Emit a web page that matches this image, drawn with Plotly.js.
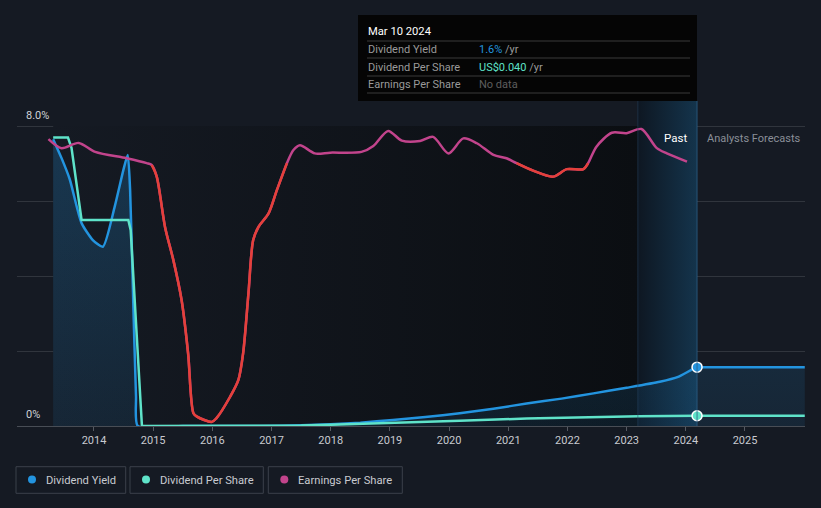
<!DOCTYPE html>
<html><head><meta charset="utf-8">
<script src="https://cdn.plot.ly/plotly-3.0.1.min.js"></script>
<style>html,body{margin:0;padding:0;background:#151a23;}#chart{width:821px;height:508px;}</style>
</head><body><div id="chart"></div>
<script>
// ---- data (x in decimal years) ----
const yieldX = [2013.31, 2013.45, 2013.59, 2013.79, 2013.98, 2014.15, 2014.35, 2014.50, 2014.57, 2014.61, 2014.66, 2014.71, 2014.74, 2015.5, 2016.5, 2016.8, 2017.5, 2018.0, 2018.5, 2019.05, 2019.6, 2020.18, 2020.75, 2021.31, 2021.9, 2022.44, 2023.0, 2023.56, 2023.87, 2024.19, 2024.3, 2025.0, 2025.9, 2026.01];
const yieldY = [7.65, 7.15, 6.58, 5.41, 4.96, 4.78, 5.85, 6.85, 7.23, 6.3, 3.5, 0.8, 0, 0, 0, 0, 0.02, 0.05, 0.09, 0.16, 0.24, 0.34, 0.46, 0.6, 0.73, 0.87, 1.02, 1.18, 1.31, 1.57, 1.57, 1.57, 1.57, 1.57];
const dpsX = [2013.31, 2013.56, 2013.62, 2013.79, 2014.58, 2014.62, 2014.81, 2016.8, 2017.5, 2018.0, 2019.05, 2020.18, 2021.31, 2022.44, 2023.2, 2024.19, 2026.01];
const dpsY = [1.12, 1.12, 1.08, 0.80, 0.80, 0.76, 0.0, 0.0, 0.002, 0.005, 0.011, 0.020, 0.029, 0.035, 0.038, 0.040, 0.040];
const epsX = [2013.23, 2013.45, 2013.74, 2014.02, 2014.55, 2014.89, 2014.975, 2015.06, 2015.20, 2015.34, 2015.48, 2015.59, 2015.68, 2015.74, 2015.99, 2016.07, 2016.30, 2016.44, 2016.52, 2016.61, 2016.69, 2016.78, 2016.95, 2017.09, 2017.26, 2017.37, 2017.48, 2017.73, 2017.99, 2018.52, 2018.72, 2018.97, 2019.20, 2019.51, 2019.73, 2019.99, 2020.24, 2020.47, 2020.75, 2020.97, 2021.14, 2021.42, 2021.76, 2021.99, 2022.27, 2022.35, 2022.49, 2022.75, 2023.00, 2023.25, 2023.51, 2023.68, 2024.02];
const epsY = [7.65, 7.41, 7.55, 7.31, 7.14, 7.01, 6.96, 6.65, 5.31, 4.43, 3.36, 1.94, 0.34, 0.25, 0.11, 0.21, 0.78, 1.23, 1.94, 3.54, 4.96, 5.31, 5.67, 6.29, 7.01, 7.36, 7.49, 7.27, 7.29, 7.31, 7.47, 7.87, 7.61, 7.60, 7.71, 7.27, 7.67, 7.54, 7.23, 7.14, 7.01, 6.81, 6.65, 6.85, 6.85, 7.01, 7.45, 7.82, 7.81, 7.92, 7.41, 7.27, 7.05];
const epsRedRanges = [[2014.97, 2017.27], [2021.13, 2022.36]];
const tickYears = [2014, 2015, 2016, 2017, 2018, 2019, 2020, 2021, 2022, 2023, 2024, 2025];
const tickLabels = tickYears.map(String);
const pastStart = 2013.31, bandStart = 2023.19, currentDate = 2024.19;
const seriesNames = ['Dividend Yield', 'Dividend Per Share', 'Earnings Per Share'];
const tooltipDate = 'Mar 10 2024';
const tooltipValues = ['1.6%', 'US$0.040', 'No data'];
const yLabels = ['8.0%', '0%'];

// ---- style ----
const BLUE = '#2394df', TEAL = '#5fe3c9', MAG = '#c2448c', RED = '#e5403a';
const BG = '#151a23';
const L = 17, R = 805, T = 101, B = 426;
const px = x => (x - L) / (R - L);
const py = y => (B - y) / (B - T);
const FONT = 'Roboto, "Open Sans", sans-serif';
const X_RANGE = [2012.699, 2026.014];
const Y_RANGE = [0, 8.667];
const Y2_RANGE = [0, 1.262];

const epsRedY = epsX.map((x, i) => epsRedRanges.some(r => x >= r[0] && x <= r[1]) ? epsY[i] : null);
const iNowY = yieldX.indexOf(currentDate);
const iNowD = dpsX.indexOf(currentDate);

const traces = [
  { x: [pastStart, bandStart, bandStart, pastStart, pastStart], y: [0, 0, 8, 8, 0], type: 'scatter', mode: 'none', fill: 'toself',
    fillgradient: { type: 'horizontal', colorscale: [[0, '#151a23'], [1, '#0b0e12']] }, hoverinfo: 'skip', showlegend: false },
  { x: [bandStart, currentDate, currentDate, bandStart, bandStart], y: [0, 0, Y_RANGE[1], Y_RANGE[1], 0], type: 'scatter', mode: 'none', fill: 'toself',
    fillgradient: { type: 'horizontal', colorscale: [[0, '#0e1722'], [1, '#14344c']] }, hoverinfo: 'skip', showlegend: false },
  { x: yieldX, y: yieldY, type: 'scatter', mode: 'lines', name: seriesNames[0], line: { color: BLUE, width: 2.5, shape: 'spline', smoothing: 0.6 },
    fill: 'tozeroy', fillgradient: { type: 'vertical', colorscale: [[0, 'rgba(35,148,223,0.10)'], [1, 'rgba(35,148,223,0.24)']] }, showlegend: false },
  { x: dpsX, y: dpsY, yaxis: 'y2', type: 'scatter', mode: 'lines', name: seriesNames[1], line: { color: TEAL, width: 2.5 }, showlegend: false },
  { x: epsX, y: epsY, yaxis: 'y3', type: 'scatter', mode: 'lines', name: seriesNames[2], line: { color: MAG, width: 2.5, shape: 'spline', smoothing: 0.8 }, showlegend: false },
  { x: epsX, y: epsRedY, yaxis: 'y3', type: 'scatter', mode: 'lines', connectgaps: false, line: { color: RED, width: 2.5, shape: 'spline', smoothing: 0.8 }, showlegend: false },
  { x: [yieldX[iNowY]], y: [yieldY[iNowY]], type: 'scatter', mode: 'markers', marker: { color: BLUE, size: 10, line: { color: '#ffffff', width: 1.5 } }, showlegend: false },
  { x: [dpsX[iNowD]], y: [dpsY[iNowD]], yaxis: 'y2', type: 'scatter', mode: 'markers', marker: { color: TEAL, size: 10, line: { color: '#ffffff', width: 1.5 } }, showlegend: false }
];

const shapes = [
  { type: 'line', xref: 'x', yref: 'paper', x0: bandStart, x1: bandStart, y0: 0, y1: 1, line: { color: 'rgba(40,70,100,0.5)', width: 1 } },
  { type: 'line', xref: 'x', yref: 'paper', x0: currentDate, x1: currentDate, y0: 0, y1: 1, line: { color: 'rgba(45,95,135,0.8)', width: 1 } },
  // tooltip
  { type: 'rect', xref: 'paper', yref: 'paper', x0: px(358), x1: px(697), y0: py(101), y1: py(15), fillcolor: '#050505', line: { width: 0 }, layer: 'above' }
];
[41, 58, 76, 93].forEach(y => shapes.push({ type: 'line', xref: 'paper', yref: 'paper', x0: px(367), x1: px(690), y0: py(y), y1: py(y), line: { color: '#3a3a3a', width: 1 }, layer: 'above' }));

// legend boxes
const legendBoxes = [[16, 125.7], [130, 263.3], [268.3, 402.3]];
const legendColors = [BLUE, TEAL, MAG];
legendBoxes.forEach((b, i) => {
  shapes.push({ type: 'rect', xref: 'paper', yref: 'paper', x0: px(b[0]), x1: px(b[1]), y0: py(493.3), y1: py(466.7), line: { color: '#3b404a', width: 1 }, fillcolor: 'rgba(0,0,0,0)' });
  shapes.push({ type: 'circle', xref: 'paper', yref: 'paper', x0: px(b[0] + 12), x1: px(b[0] + 20), y0: py(483.5), y1: py(475.5), line: { width: 0 }, fillcolor: legendColors[i] });
});

const ann = (x, y, text, color, size, anchor) => ({ xref: 'paper', yref: 'paper', x: px(x), y: py(y), text, showarrow: false, xanchor: anchor || 'left', yanchor: 'middle', font: { family: FONT, size, color } });
const annotations = [
  ann(24, 115, yLabels[0], '#d0d2d6', 11),
  ann(24, 414, yLabels[1], '#d0d2d6', 11),
  ann(689, 138, 'Past', '#ffffff', 11.5, 'right'),
  ann(705, 138, 'Analysts Forecasts', '#8a8f98', 11),
  ann(366, 31, tooltipDate, '#ffffff', 11.2),
  ann(366, 49.5, seriesNames[0], '#9a9a9a', 11),
  ann(366, 67, seriesNames[1], '#9a9a9a', 11),
  ann(366, 84.5, seriesNames[2], '#9a9a9a', 11),
  ann(477, 49.5, '<span style="color:' + BLUE + '">' + tooltipValues[0] + '</span> /yr', '#9a9a9a', 11),
  ann(477, 67, '<span style="color:' + TEAL + '">' + tooltipValues[1] + '</span> /yr', '#9a9a9a', 11),
  ann(477, 84.5, tooltipValues[2], '#5e5e5e', 11)
];
legendBoxes.forEach((b, i) => annotations.push(ann(b[0] + 27.5, 480, seriesNames[i], '#c8cad0', 11.2)));

const layout = {
  width: 821, height: 508,
  margin: { l: L, r: 821 - R, t: T, b: 508 - B, pad: 0 },
  paper_bgcolor: BG, plot_bgcolor: BG,
  hovermode: false,
  xaxis: { range: X_RANGE, tickvals: tickYears, ticktext: tickLabels, ticks: 'outside', ticklen: 4, tickcolor: '#555a62',
    tickfont: { family: FONT, size: 11, color: '#c8cad0' }, showgrid: false, zeroline: false, showline: true, linecolor: '#484d55', linewidth: 1, fixedrange: true },
  yaxis: { range: Y_RANGE, tickvals: [0, 2, 4, 6, 8], showticklabels: false, gridcolor: '#30353d', gridwidth: 1, zeroline: false, fixedrange: true },
  yaxis2: { range: Y2_RANGE, overlaying: 'y', visible: false, fixedrange: true },
  yaxis3: { range: Y_RANGE, overlaying: 'y', visible: false, fixedrange: true },
  shapes, annotations, showlegend: false
};

Plotly.newPlot('chart', traces, layout, { displayModeBar: false, staticPlot: true });
</script></body></html>
